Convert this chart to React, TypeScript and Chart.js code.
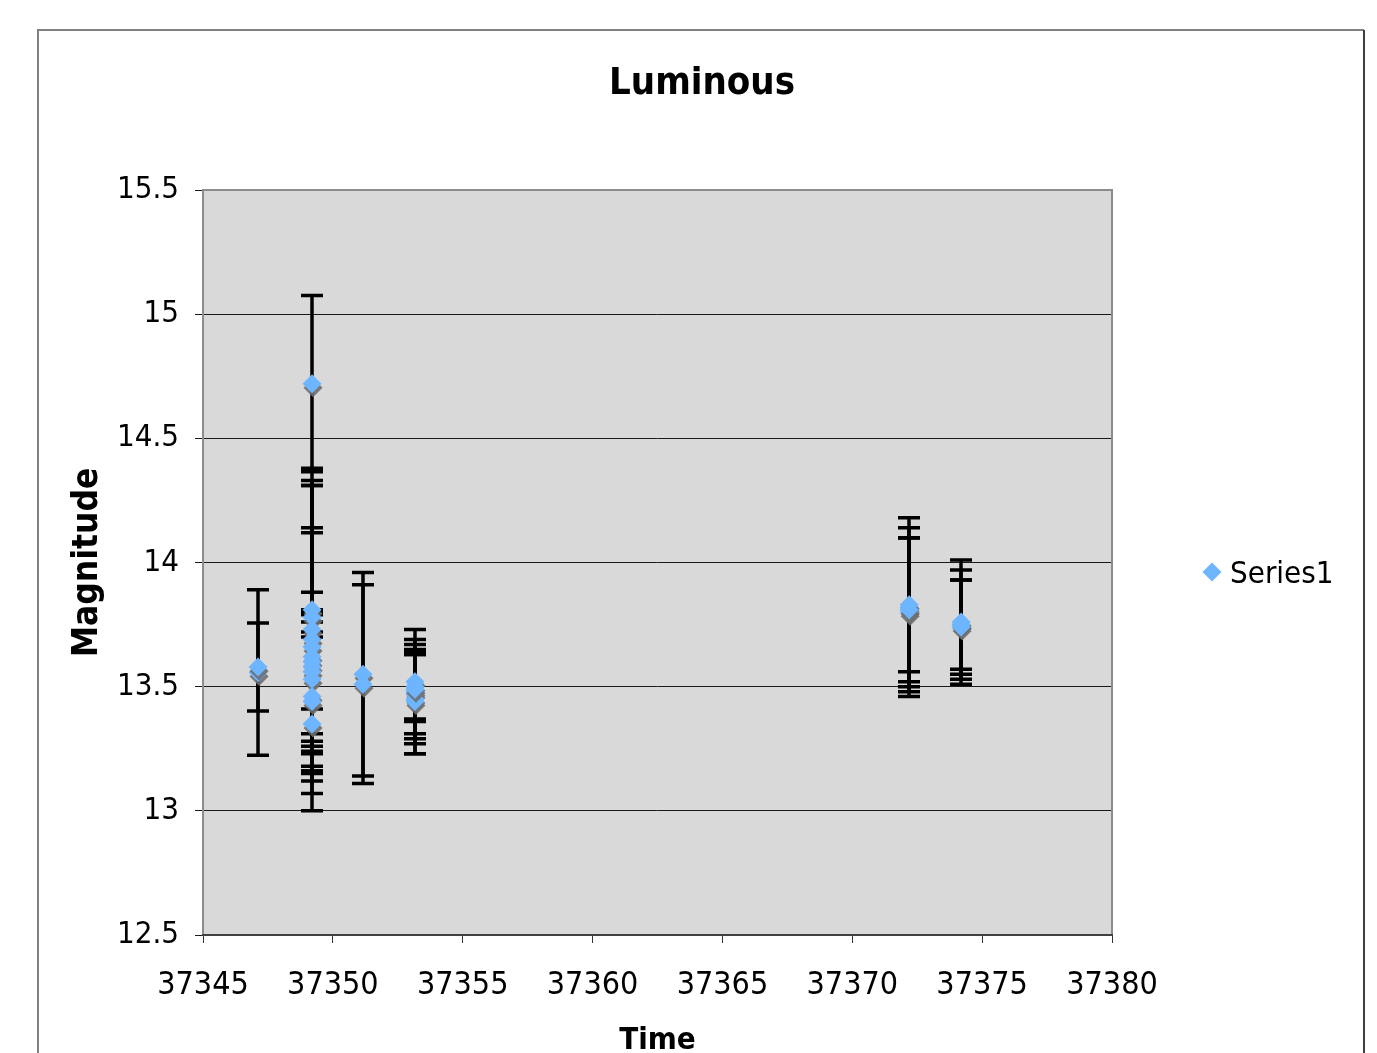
import React, { useEffect, useRef } from "react";
import { Chart, registerables } from "chart.js";

Chart.register(...registerables);

// ---- data ----
const chartTitle = "Luminous";
const xAxisTitle = "Time";
const yAxisTitle = "Magnitude";
const seriesName = "Series1";

const timeValues = [
  37347.12, 37347.12,
  37349.2, 37349.2, 37349.2, 37349.2, 37349.2, 37349.2, 37349.2, 37349.2,
  37349.2, 37349.2, 37349.2, 37349.2, 37349.2, 37349.2,
  37351.16, 37351.16,
  37353.16, 37353.16, 37353.16, 37353.16, 37353.16, 37353.16, 37353.16,
  37372.19, 37372.19, 37372.19, 37372.19, 37372.19,
  37374.19, 37374.19, 37374.19, 37374.19,
];

const magnitudeValues = [
  13.557, 13.579,
  14.72, 13.35, 13.81, 13.78, 13.73, 13.69, 13.66, 13.62,
  13.6, 13.58, 13.56, 13.53, 13.46, 13.44,
  13.55, 13.51,
  13.52, 13.5, 13.48, 13.47, 13.45, 13.44, 13.49,
  13.82, 13.81, 13.8, 13.83, 13.81,
  13.76, 13.75, 13.75, 13.74,
];

const magnitudeErrors = [
  0.333, 0.177,
  0.355, 0.35, 0.57, 0.55, 0.58, 0.62, 0.48, 0.5,
  0.19, 0.3, 0.25, 0.27, 0.3, 0.28,
  0.41, 0.4,
  0.15, 0.14, 0.25, 0.16, 0.18, 0.21, 0.2,
  0.36, 0.33, 0.3, 0.27, 0.29,
  0.25, 0.22, 0.18, 0.19,
];

const xTicks = [37345, 37350, 37355, 37360, 37365, 37370, 37375, 37380];
const yTicks = [12.5, 13, 13.5, 14, 14.5, 15, 15.5];

const FONT = "'DejaVu Sans Condensed', 'Liberation Sans', 'DejaVu Sans', sans-serif";
const POINT_COLOR = "#6db5ff";

const errorBarPlugin = {
  id: "errorBars",
  beforeDraw(chart: any) {
    const { ctx, chartArea: a } = chart;
    ctx.save();
    ctx.fillStyle = "#ffffff";
    ctx.fillRect(0, 0, chart.width, chart.height);
    // outer frame
    ctx.lineWidth = 2;
    ctx.strokeStyle = "#808080";
    ctx.beginPath();
    ctx.moveTo(38, 1060);
    ctx.lineTo(38, 30);
    ctx.lineTo(1364, 30);
    ctx.stroke();
    ctx.strokeStyle = "#404040";
    ctx.beginPath();
    ctx.moveTo(1364, 30);
    ctx.lineTo(1364, 1060);
    ctx.stroke();
    // plot background
    ctx.fillStyle = "#d9d9d9";
    ctx.fillRect(a.left, a.top, a.right - a.left, a.bottom - a.top);
    ctx.restore();
  },
  beforeDatasetsDraw(chart: any) {
    const { ctx, chartArea: a, scales } = chart;
    ctx.save();
    // plot border
    ctx.lineWidth = 2;
    ctx.strokeStyle = "#8c8c8c";
    ctx.strokeRect(a.left, a.top, a.right - a.left, a.bottom - a.top);
    ctx.strokeStyle = "#404040";
    ctx.beginPath();
    ctx.moveTo(a.left - 1, a.bottom);
    ctx.lineTo(a.right + 1, a.bottom);
    ctx.stroke();
    // error bars
    const xs = scales.x;
    const ys = scales.y;
    ctx.strokeStyle = "#000000";
    ctx.lineWidth = 3.5;
    for (let i = 0; i < timeValues.length; i++) {
      const px = Math.round(xs.getPixelForValue(timeValues[i]));
      const top = ys.getPixelForValue(magnitudeValues[i] + magnitudeErrors[i]);
      const bot = ys.getPixelForValue(magnitudeValues[i] - magnitudeErrors[i]);
      ctx.beginPath();
      ctx.moveTo(px, top);
      ctx.lineTo(px, bot);
      ctx.moveTo(px - 11, top);
      ctx.lineTo(px + 11, top);
      ctx.moveTo(px - 11, bot);
      ctx.lineTo(px + 11, bot);
      ctx.stroke();
    }
    ctx.restore();
  },
  beforeDatasetDraw(chart: any) {
    const ctx = chart.ctx;
    ctx.save();
    ctx.shadowColor = "rgba(110,110,110,0.9)";
    ctx.shadowOffsetX = 1;
    ctx.shadowOffsetY = 4;
    ctx.shadowBlur = 0;
  },
  afterDatasetDraw(chart: any) {
    chart.ctx.restore();
  },
  afterDraw(chart: any) {
    const ctx = chart.ctx;
    ctx.save();
    // title
    ctx.fillStyle = "#000";
    ctx.font = `bold 38px ${FONT}`;
    ctx.textAlign = "center";
    ctx.textBaseline = "middle";
    ctx.fillText(chartTitle, 702, 84);
    // legend
    const lx = 1212;
    const ly = 572;
    const r = 9.5;
    ctx.fillStyle = POINT_COLOR;
    ctx.beginPath();
    ctx.moveTo(lx, ly - r);
    ctx.lineTo(lx + r, ly);
    ctx.lineTo(lx, ly + r);
    ctx.lineTo(lx - r, ly);
    ctx.closePath();
    ctx.fill();
    ctx.fillStyle = "#000";
    ctx.font = `31px ${FONT}`;
    ctx.textAlign = "left";
    ctx.textBaseline = "middle";
    ctx.fillText(chart.data.datasets[0].label, 1230, 575);
    ctx.restore();
  },
};

export default function App() {
  const canvasRef = useRef<HTMLCanvasElement | null>(null);

  useEffect(() => {
    const canvas = canvasRef.current;
    if (!canvas) return;
    const chart = new Chart(canvas, {
      type: "scatter",
      data: {
        datasets: [
          {
            label: seriesName,
            data: timeValues.map((x, i) => ({ x, y: magnitudeValues[i] })),
            pointStyle: "rectRot",
            pointRadius: 9.5,
            pointHoverRadius: 9.5,
            backgroundColor: POINT_COLOR,
            borderColor: POINT_COLOR,
            borderWidth: 0,
          },
        ],
      },
      options: {
        responsive: false,
        animation: false,
        devicePixelRatio: 1,
        layout: { padding: { top: 190, left: 0, right: 265, bottom: 0 } },
        plugins: {
          legend: { display: false },
          tooltip: { enabled: false },
          title: { display: false },
        },
        scales: {
          x: {
            type: "linear",
            min: 37345,
            max: 37380,
            afterBuildTicks: (s: any) => {
              s.ticks = xTicks.map((v) => ({ value: v }));
            },
            afterFit: (s: any) => {
              s.height = 118;
            },
            ticks: {
              color: "#000",
              padding: 23,
              maxRotation: 0,
              autoSkip: false,
              font: { family: FONT, size: 32 },
              callback: (v: any) => String(v),
            },
            grid: {
              drawOnChartArea: false,
              drawTicks: true,
              tickLength: 8,
              color: "#333",
              lineWidth: 1,
            },
            border: { display: false },
            title: {
              display: true,
              text: xAxisTitle,
              color: "#000",
              padding: 0,
              font: { family: FONT, size: 31, weight: "bold", lineHeight: 0.8 },
            },
          },
          y: {
            type: "linear",
            min: 12.5,
            max: 15.5,
            afterBuildTicks: (s: any) => {
              s.ticks = yTicks.map((v) => ({ value: v }));
            },
            afterFit: (s: any) => {
              s.width = 203;
            },
            ticks: {
              color: "#000",
              padding: 16,
              autoSkip: false,
              font: { family: FONT, size: 31 },
              callback: (v: any) => String(v),
            },
            grid: {
              drawTicks: true,
              tickLength: 8,
              color: "#1a1a1a",
              lineWidth: 1,
            },
            border: { display: false },
            title: {
              display: true,
              text: yAxisTitle,
              color: "#000",
              padding: { top: 70, bottom: 0 },
              font: { family: FONT, size: 35, weight: "bold", lineHeight: 1 },
            },
          },
        },
      },
      plugins: [errorBarPlugin],
    } as any);
    return () => chart.destroy();
  }, []);

  return (
    <div style={{ position: "fixed", left: 0, top: 0, width: 1377, height: 1053, background: "#fff" }}>
      <canvas ref={canvasRef} width={1377} height={1053} style={{ display: "block" }} />
    </div>
  );
}
